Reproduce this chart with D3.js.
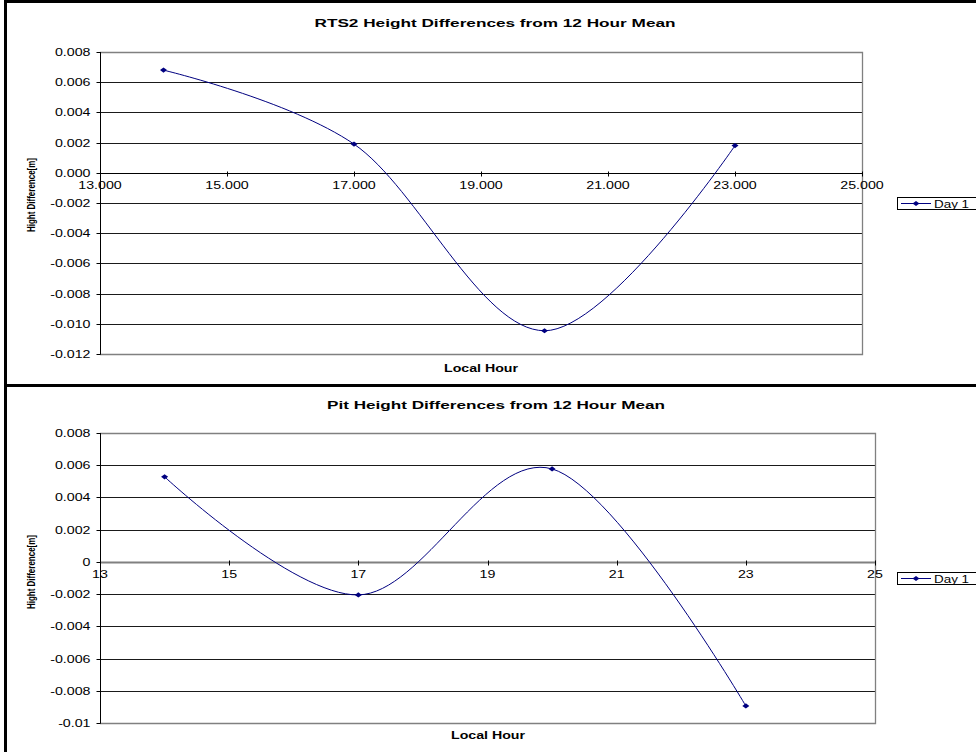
<!DOCTYPE html>
<html>
<head>
<meta charset="utf-8">
<script src="https://cdn.jsdelivr.net/npm/d3@7"></script>
<style>
  html, body { margin: 0; padding: 0; background: #fff; }
  svg { display: block; }
  text { font-family: Arial, "Liberation Sans", sans-serif; fill: #000; }
</style>
</head>
<body>
<svg id="chart" width="976" height="752"></svg>
<script>
// Local hour of each observation (shared by both panels)
const hours = [14, 17, 20, 23];

// RTS2 panel: height difference from the 12 hour mean, metres
const rts2Diff = [0.0068, 0.0019, -0.01046, 0.0018];
const rts2YTicks = [0.008, 0.006, 0.004, 0.002, 0, -0.002, -0.004, -0.006, -0.008, -0.010, -0.012];
const rts2YLabels = ["0.008", "0.006", "0.004", "0.002", "0.000", "-0.002", "-0.004", "-0.006", "-0.008", "-0.010", "-0.012"];
const rts2XTicks = [13, 15, 17, 19, 21, 23, 25];
const rts2XLabels = ["13.000", "15.000", "17.000", "19.000", "21.000", "23.000", "25.000"];

// Pit panel: height difference from the 12 hour mean, metres
const pitDiff = [0.00528, -0.00205, 0.00577, -0.00894];
const pitYTicks = [0.008, 0.006, 0.004, 0.002, 0, -0.002, -0.004, -0.006, -0.008, -0.01];
const pitYLabels = ["0.008", "0.006", "0.004", "0.002", "0", "-0.002", "-0.004", "-0.006", "-0.008", "-0.01"];
const pitXTicks = [13, 15, 17, 19, 21, 23, 25];
const pitXLabels = ["13", "15", "17", "19", "21", "23", "25"];

const seriesName = "Day 1";
const lineColor = "#000080";
const SX = 1.42; // horizontal stretch applied to all lettering

const svg = d3.select("#chart");

// Stretch a text element horizontally by a factor, or to a fixed width
function stretch(sel, factor, width) {
  sel.each(function () {
    const w = this.getComputedTextLength();
    const target = width != null ? width : w * factor;
    d3.select(this).attr("textLength", target).attr("lengthAdjust", "spacingAndGlyphs");
  });
}

function crisp(v) { return Math.round(v) + 0.5; }

function diamond(x, y) {
  return `M${x - 3.5},${y}L${x},${y - 2.6}L${x + 3.5},${y}L${x},${y + 2.6}Z`;
}

function drawPanel(cfg) {
  const g = svg.append("g");

  // outer chart frame
  g.append("rect")
    .attr("x", 5.5).attr("y", cfg.frameTop)
    .attr("width", 1100).attr("height", cfg.frameHeight)
    .attr("fill", "#fff").attr("stroke", "#000").attr("stroke-width", 3);

  const x = d3.scaleLinear().domain([13, 25]).range([cfg.left, cfg.right]);
  const y = d3.scaleLinear().domain(cfg.yDomain).range([cfg.bottom, cfg.top]);

  // horizontal gridlines
  g.append("g").selectAll("line").data(cfg.yTicks.slice(1, -1))
    .join("line")
    .attr("x1", cfg.left).attr("x2", cfg.right)
    .attr("y1", d => crisp(y(d))).attr("y2", d => crisp(y(d)))
    .attr("stroke", "#1a1a1a").attr("stroke-width", 1);

  // plot area border (top, right, bottom)
  g.append("path")
    .attr("d", `M${cfg.left},${crisp(y(cfg.yDomain[1]))}H${crisp(cfg.right)}V${crisp(y(cfg.yDomain[0]))}H${cfg.left}`)
    .attr("fill", "none").attr("stroke", "#808080").attr("stroke-width", 1.3);

  // y axis with outside ticks
  const yAxis = g.append("g").attr("transform", `translate(${crisp(cfg.left)},0)`);
  yAxis.append("line")
    .attr("y1", y(cfg.yDomain[1])).attr("y2", y(cfg.yDomain[0]) + 0.5)
    .attr("stroke", "#000").attr("stroke-width", 1);
  yAxis.selectAll("line.tick").data(cfg.yTicks).join("line")
    .attr("class", "tick")
    .attr("x1", -4).attr("x2", 0)
    .attr("y1", d => crisp(y(d))).attr("y2", d => crisp(y(d)))
    .attr("stroke", "#000");
  yAxis.selectAll("text").data(cfg.yTicks).join("text")
    .attr("x", -10).attr("y", d => crisp(y(d)) + 3.5)
    .attr("text-anchor", "end").attr("font-size", 10)
    .text((d, i) => cfg.yLabels[i])
    .call(stretch, SX);

  // x axis along zero with crossing ticks
  const y0 = crisp(y(0));
  const xAxis = g.append("g");
  xAxis.append("line")
    .attr("x1", cfg.left).attr("x2", cfg.right)
    .attr("y1", y0).attr("y2", y0)
    .attr("stroke", cfg.zeroColor).attr("stroke-width", cfg.zeroWidth);
  xAxis.selectAll("line.tick").data(cfg.xTicks).join("line")
    .attr("class", "tick")
    .attr("x1", d => crisp(x(d))).attr("x2", d => crisp(x(d)))
    .attr("y1", y0 - 2).attr("y2", y0 + 3)
    .attr("stroke", "#000");
  xAxis.selectAll("text").data(cfg.xTicks).join("text")
    .attr("x", d => x(d)).attr("y", y0 + 15)
    .attr("text-anchor", "middle").attr("font-size", 10)
    .text((d, i) => cfg.xLabels[i])
    .call(stretch, SX);

  // smoothed series line and markers
  const pts = hours.map((h, i) => [h, cfg.values[i]]);
  const line = d3.line().x(d => x(d[0])).y(d => y(d[1])).curve(d3.curveCardinal.tension(0));
  g.append("path").attr("d", line(pts))
    .attr("fill", "none").attr("stroke", lineColor).attr("stroke-width", 1);
  g.selectAll("path.marker").data(pts).join("path")
    .attr("class", "marker")
    .attr("d", d => diamond(x(d[0]), y(d[1])))
    .attr("fill", lineColor);

  // titles
  g.append("text")
    .attr("x", cfg.titleX).attr("y", cfg.titleY)
    .attr("text-anchor", "middle").attr("font-size", 10).attr("font-weight", "bold")
    .text(cfg.title)
    .call(stretch, null, cfg.titleWidth);

  g.append("text")
    .attr("x", cfg.xTitleX).attr("y", cfg.xTitleY)
    .attr("text-anchor", "middle").attr("font-size", 10).attr("font-weight", "bold")
    .text("Local Hour")
    .call(stretch, null, 74);

  g.append("text")
    .attr("transform", `translate(34.5,${cfg.yTitleY}) rotate(-90)`)
    .attr("text-anchor", "middle").attr("font-size", 10.5).attr("font-weight", "bold")
    .text("Hight Difference[m]")
    .call(stretch, null, 74);

  // legend
  const lg = g.append("g").attr("transform", `translate(0,${cfg.legendY})`);
  lg.append("rect")
    .attr("x", 897.5).attr("y", 0.5).attr("width", 120).attr("height", 12)
    .attr("fill", "#fff").attr("stroke", "#000").attr("stroke-width", 1);
  lg.append("line")
    .attr("x1", 901).attr("x2", 931).attr("y1", 6.5).attr("y2", 6.5)
    .attr("stroke", lineColor).attr("stroke-width", 1);
  lg.append("path").attr("d", diamond(916, 6.5)).attr("fill", lineColor);
  lg.append("text")
    .attr("x", 934).attr("y", 10.5).attr("font-size", 10)
    .text(seriesName)
    .call(stretch, null, 35);
}

drawPanel({
  frameTop: 1.5, frameHeight: 384,
  left: 100, right: 862, top: 52, bottom: 354,
  yDomain: [-0.012, 0.008],
  yTicks: rts2YTicks, yLabels: rts2YLabels,
  xTicks: rts2XTicks, xLabels: rts2XLabels,
  values: rts2Diff,
  zeroColor: "#000", zeroWidth: 1.2,
  title: "RTS2 Height Differences from 12 Hour Mean",
  titleX: 495, titleY: 26.5, titleWidth: 361,
  xTitleX: 481, xTitleY: 371.5,
  yTitleY: 195,
  legendY: 197
});

drawPanel({
  frameTop: 385.5, frameHeight: 420,
  left: 100, right: 875, top: 433, bottom: 723,
  yDomain: [-0.01, 0.008],
  yTicks: pitYTicks, yLabels: pitYLabels,
  xTicks: pitXTicks, xLabels: pitXLabels,
  values: pitDiff,
  zeroColor: "#808080", zeroWidth: 2,
  title: "Pit Height Differences from 12 Hour Mean",
  titleX: 496, titleY: 409, titleWidth: 338,
  xTitleX: 488, xTitleY: 739,
  yTitleY: 572,
  legendY: 572
});
</script>
</body>
</html>
